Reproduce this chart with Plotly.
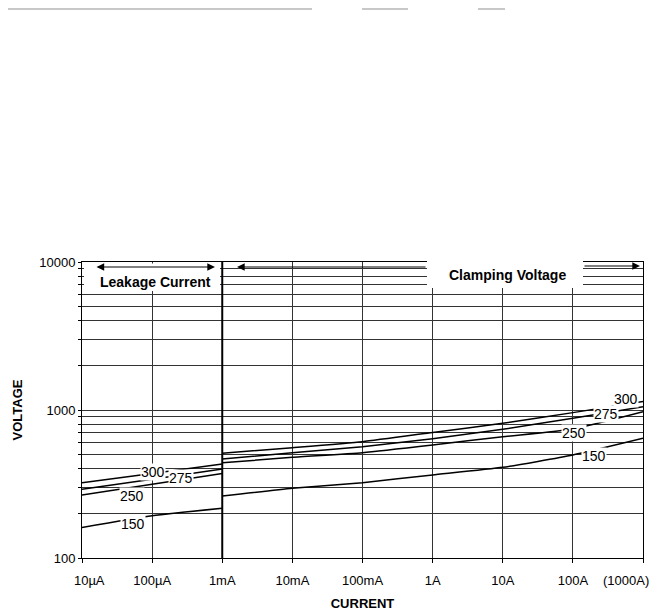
import plotly.graph_objects as go

# ---- data ----
leak_current = [1e-5, 1e-4, 1e-3]
clamp_current = [1e-3, 1e-2, 1e-1, 1, 10, 100, 1000]

v300_leak = [323, 373, 431]
v275_leak = [291, 341, 399]
v250_leak = [266, 315, 373]
v150_leak = [161, 193, 217]

v300_clamp = [510, 556, 611, 705, 813, 960, 1140]
v275_clamp = [467, 514, 565, 640, 741, 880, 1050]
v250_clamp = [440, 479, 515, 580, 660, 745, 975]
v150_clamp = [262, 296, 323, 364, 410, 497, 644]

x_tickvals = [1e-5, 1e-4, 1e-3, 1e-2, 1e-1, 1, 10, 100, 1000]
x_labels = ["10\u00b5A", "100\u00b5A", "1mA", "10mA", "100mA", "1A", "10A", "100A", "(1000A)"]
y_tickvals = [100, 200, 300, 400, 500, 600, 700, 800, 900,
              1000, 2000, 3000, 4000, 5000, 6000, 7000, 8000, 9000, 10000]
y_ticktext = ["100"] + [""] * 8 + ["1000"] + [""] * 8 + ["10000"]

series = [
    ("300", v300_leak, v300_clamp),
    ("275", v275_leak, v275_clamp),
    ("250", v250_leak, v250_clamp),
    ("150", v150_leak, v150_clamp),
]

FONT = "Liberation Sans, Arial, Helvetica, sans-serif"

# first label nudged right with no-break spaces; last one drawn as an annotation so it stays inside the page
x_ticktext = ["\u00a0\u00a0\u00a0\u00a0" + x_labels[0]] + x_labels[1:-1] + [""]

fig = go.Figure()
for name, lk, cl in series:
    fig.add_trace(go.Scatter(
        x=leak_current + [None] + clamp_current,
        y=lk + [None] + cl,
        mode="lines", name=name, showlegend=False,
        line=dict(color="black", width=1.5, shape="spline", smoothing=0.5),
        hoverinfo="skip",
    ))

# page has an 8px body margin: compensate so the plot area lands at x 82-643, y 262-558
OFF = 8
W, H = 662 - OFF, 614 - OFF
L, R, T, B = 82 - OFF, 19, 262 - OFF, 56
pw, ph = W - L - R, H - T - B
X0, Y1 = 82, 558  # screen px of plot-area left / bottom


def px(x):
    return (x - X0) / pw


def py(y):
    return (Y1 - y) / ph


shapes = []
# thick 1mA divider
shapes.append(dict(type="line", xref="paper", yref="paper", x0=0.25, x1=0.25, y0=0, y1=1,
                   line=dict(color="black", width=2), layer="above"))
# white masks behind the region texts
shapes.append(dict(type="rect", xref="paper", yref="paper", x0=px(84), x1=px(220), y0=py(291), y1=py(263.5),
                   fillcolor="white", line=dict(width=0), layer="above"))
shapes.append(dict(type="rect", xref="paper", yref="paper", x0=px(427), x1=px(583), y0=py(288), y1=py(255),
                   fillcolor="white", line=dict(width=0), layer="above"))
# faint scan line at top of page
for a, b in [(8, 312), (362, 408), (478, 505)]:
    shapes.append(dict(type="line", xref="paper", yref="paper", x0=px(a), x1=px(b), y0=py(9), y1=py(9),
                       line=dict(color="#c8c8c8", width=2)))

annotations = []
# arrows
annotations.append(dict(xref="paper", yref="paper", x=px(215), y=py(267), ax=-120, ay=0, axref="pixel", ayref="pixel",
                        text="", showarrow=True, arrowside="end+start", arrowhead=2, arrowsize=1.4,
                        arrowwidth=1.1, arrowcolor="black"))
annotations.append(dict(xref="paper", yref="paper", x=px(237), y=py(267), ax=190, ay=0, axref="pixel", ayref="pixel",
                        text="", showarrow=True, arrowhead=2, arrowsize=1.4, arrowwidth=1.1, arrowcolor="black"))
annotations.append(dict(xref="paper", yref="paper", x=px(640), y=py(266), ax=-57, ay=0, axref="pixel", ayref="pixel",
                        text="", showarrow=True, arrowhead=2, arrowsize=1.4, arrowwidth=1.1, arrowcolor="black"))
annotations.append(dict(xref="paper", yref="paper", x=px(155), y=py(282), text="<b>Leakage Current</b>",
                        xanchor="center", yanchor="middle",
                        showarrow=False, font=dict(family=FONT, size=14, color="black")))
annotations.append(dict(xref="paper", yref="paper", x=px(507), y=py(275), text="<b>Clamping Voltage</b>",
                        xanchor="center", yanchor="middle",
                        showarrow=False, font=dict(family=FONT, size=14, color="black")))
# last x tick label
annotations.append(dict(xref="paper", yref="paper", x=px(651), y=py(580), text=x_labels[-1],
                        xanchor="right", yanchor="middle", showarrow=False,
                        font=dict(family=FONT, size=13, color="black")))

# curve labels (positions in log10 units)
labels = [
    ("300", -3.99, 2.581), ("275", -3.59, 2.541), ("250", -4.29, 2.419), ("150", -4.27, 2.230),
    ("300", 2.76, 3.074), ("275", 2.47, 2.973), ("250", 2.02, 2.845), ("150", 2.30, 2.689),
]
for t, lx, ly in labels:
    annotations.append(dict(xref="x", yref="y", x=lx, y=ly, text=t, showarrow=False,
                            xanchor="center", yanchor="middle",
                            bgcolor="white", borderpad=0,
                            font=dict(family=FONT, size=14, color="black")))

fig.update_layout(
    width=W, height=H,
    margin=dict(l=L, r=R, t=T, b=B, autoexpand=False),
    paper_bgcolor="white", plot_bgcolor="white",
    shapes=shapes, annotations=annotations,
    font=dict(family=FONT, size=13, color="black"),
    xaxis=dict(type="log", range=[-5, 3], tickvals=x_tickvals, ticktext=x_ticktext,
               showgrid=True, gridcolor="#333333", gridwidth=1,
               ticks="outside", ticklen=4, tickcolor="black", tickwidth=1,
               showline=True, linecolor="black", linewidth=1, mirror=True,
               tickfont=dict(family=FONT, size=13, color="black"), ticklabelstandoff=6,
               title=dict(text="<b>CURRENT</b>", font=dict(family=FONT, size=13, color="black"), standoff=12),
               automargin=False),
    yaxis=dict(type="log", range=[2, 4], tickvals=y_tickvals, ticktext=y_ticktext,
               showgrid=True, gridcolor="#333333", gridwidth=1,
               ticks="outside", ticklen=3, tickcolor="black", tickwidth=1,
               showline=True, linecolor="black", linewidth=1, mirror=True,
               tickfont=dict(family=FONT, size=13, color="black"), ticklabelstandoff=0,
               title=dict(text="<b>VOLTAGE</b>", font=dict(family=FONT, size=13, color="black"), standoff=13),
               automargin=False),
)

fig.write_html("out.html")
